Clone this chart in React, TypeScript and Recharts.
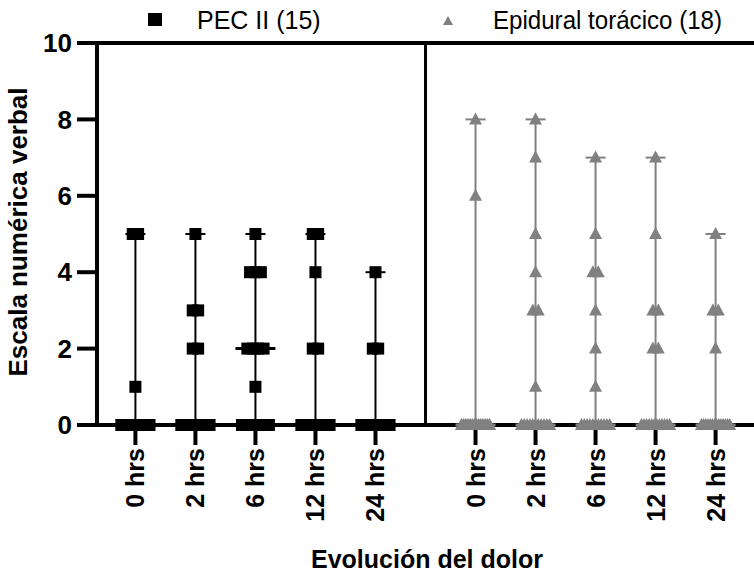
import { ScatterChart, Scatter, XAxis, YAxis, ErrorBar, ReferenceLine } from "recharts";

const times = ["0 hrs", "2 hrs", "6 hrs", "12 hrs", "24 hrs"];
const yTicks = [0, 2, 4, 6, 8, 10];

// PEC II (n = 15), one row per time point
const pecScores = [
  [5, 5, 1, 0, 0, 0, 0, 0, 0, 0, 0, 0, 0, 0, 0],
  [5, 3, 3, 2, 2, 0, 0, 0, 0, 0, 0, 0, 0, 0, 0],
  [5, 4, 4, 4, 2, 2, 2, 2, 1, 0, 0, 0, 0, 0, 0],
  [5, 5, 4, 2, 2, 0, 0, 0, 0, 0, 0, 0, 0, 0, 0],
  [4, 2, 2, 0, 0, 0, 0, 0, 0, 0, 0, 0, 0, 0, 0],
];

// Epidural torácico (n = 18)
const epiScores = [
  [8, 6, 0, 0, 0, 0, 0, 0, 0, 0, 0, 0, 0, 0, 0, 0, 0, 0],
  [8, 7, 5, 4, 3, 3, 1, 0, 0, 0, 0, 0, 0, 0, 0, 0, 0, 0],
  [7, 5, 4, 4, 3, 2, 1, 0, 0, 0, 0, 0, 0, 0, 0, 0, 0, 0],
  [7, 5, 3, 3, 2, 2, 0, 0, 0, 0, 0, 0, 0, 0, 0, 0, 0, 0],
  [5, 3, 3, 2, 0, 0, 0, 0, 0, 0, 0, 0, 0, 0, 0, 0, 0, 0],
];

const FONT = "'Liberation Sans', Arial, sans-serif";
const GRAY = "#808080";

// layout of the category slots on the numeric x axis
const GROUP_GAP = 2 / 3;
const EDGE = 0.64;
const STEP = 0.09; // horizontal spread between tied points
const MAX_SPREAD = 0.47;

const pos = (group: number, i: number) => 1 + i + group * (times.length + GROUP_GAP);
const tickPositions = [0, 1].flatMap((g) => times.map((_, i) => pos(g, i)));
const xDomain = [pos(0, 0) - EDGE, pos(1, times.length - 1) + EDGE];
const divider = (pos(0, times.length - 1) + pos(1, 0)) / 2;

function dotsFor(scores: number[][], group: number) {
  const out: { x: number; y: number }[] = [];
  scores.forEach((vals, i) => {
    const counts = new Map<number, number>();
    vals.forEach((v) => counts.set(v, (counts.get(v) || 0) + 1));
    counts.forEach((n, v) => {
      const spread = Math.min((n - 1) * STEP, MAX_SPREAD);
      for (let k = 0; k < n; k++) {
        const off = n === 1 ? 0 : -spread / 2 + (spread * k) / (n - 1);
        out.push({ x: pos(group, i) + off, y: v });
      }
    });
  });
  return out;
}

function summaryFor(scores: number[][], group: number) {
  return scores.map((vals, i) => {
    const s = [...vals].sort((a, b) => a - b);
    const m = s.length % 2 ? s[(s.length - 1) / 2] : (s[s.length / 2 - 1] + s[s.length / 2]) / 2;
    return { x: pos(group, i), y: m, err: [m - s[0], s[s.length - 1] - m] };
  });
}

const pecDots = dotsFor(pecScores, 0);
const epiDots = dotsFor(epiScores, 1);
const pecSummary = summaryFor(pecScores, 0);
const epiSummary = summaryFor(epiScores, 1);

const Square = (props: any) => (
  <rect x={props.cx - 6} y={props.cy - 6} width={12} height={12} fill="#000" />
);

const Triangle = (props: any) => (
  <polygon
    points={`${props.cx},${props.cy - 7} ${props.cx - 6.5},${props.cy + 5} ${props.cx + 6.5},${props.cy + 5}`}
    fill={GRAY}
  />
);

const medianLine = (color: string) => (props: any) => (
  <line x1={props.cx - 20} x2={props.cx + 20} y1={props.cy} y2={props.cy} stroke={color} strokeWidth={3} />
);

const XTick = (props: any) => {
  const { x, y, payload } = props;
  const idx = tickPositions.findIndex((p) => Math.abs(p - payload.value) < 1e-6);
  return (
    <g transform={`translate(${x},${y})`}>
      <text
        transform="rotate(-90)"
        textAnchor="end"
        dy="0.36em"
        fontFamily={FONT}
        fontWeight="bold"
        fontSize={25}
        fill="#000"
      >
        {times[idx % times.length]}
      </text>
    </g>
  );
};

export default function App() {
  return (
    <div style={{ position: "relative", width: 754, height: 573, background: "#fff" }}>
      <style>{"body{margin:0}"}</style>
      <ScatterChart width={754} height={573} margin={{ top: 43, right: 0, bottom: 0, left: 0 }}>
        <XAxis
          type="number"
          dataKey="x"
          domain={xDomain}
          ticks={tickPositions}
          interval={0}
          allowDataOverflow
          height={148}
          tickSize={20}
          tickMargin={3}
          tick={<XTick />}
          axisLine={{ stroke: "#000", strokeWidth: 4 }}
          tickLine={{ stroke: "#000", strokeWidth: 4 }}
        />
        <YAxis
          type="number"
          dataKey="y"
          domain={[0, 10]}
          ticks={yTicks}
          interval={0}
          width={97}
          tickSize={20}
          tickMargin={5}
          tick={{ fill: "#000", fontSize: 26, fontWeight: "bold", fontFamily: FONT }}
          axisLine={{ stroke: "#000", strokeWidth: 4 }}
          tickLine={{ stroke: "#000", strokeWidth: 4 }}
        />
        <ReferenceLine y={10} stroke="#000" strokeWidth={4} />
        <ReferenceLine x={divider} stroke="#000" strokeWidth={3} />

        <Scatter data={pecSummary} shape={medianLine("#000")} isAnimationActive={false}>
          <ErrorBar dataKey="err" direction="y" width={10} stroke="#000" strokeWidth={2} />
        </Scatter>
        <Scatter data={epiSummary} shape={medianLine(GRAY)} isAnimationActive={false}>
          <ErrorBar dataKey="err" direction="y" width={10} stroke={GRAY} strokeWidth={2} />
        </Scatter>
        <Scatter data={pecDots} shape={<Square />} isAnimationActive={false} />
        <Scatter data={epiDots} shape={<Triangle />} isAnimationActive={false} />
      </ScatterChart>

      <svg width={754} height={573} style={{ position: "absolute", left: 0, top: 0, pointerEvents: "none" }}>
        <rect x={148} y={13} width={14} height={13} fill="#000" />
        <text x={197} y={29} fontFamily={FONT} fontSize={25} fill="#000">PEC II (15)</text>
        <polygon points="448,16 443,25 453,25" fill={GRAY} />
        <text x={493} y={29} fontFamily={FONT} fontSize={25} fill="#000" textLength={229} lengthAdjust="spacingAndGlyphs">
          Epidural torácico (18)
        </text>
        <text
          transform="translate(27,232) rotate(-90)"
          textAnchor="middle"
          fontFamily={FONT}
          fontWeight="bold"
          fontSize={26}
          fill="#000"
        >
          Escala numérica verbal
        </text>
        <text x={427} y={568} textAnchor="middle" fontFamily={FONT} fontWeight="bold" fontSize={25} fill="#000">
          Evolución del dolor
        </text>
      </svg>
    </div>
  );
}
